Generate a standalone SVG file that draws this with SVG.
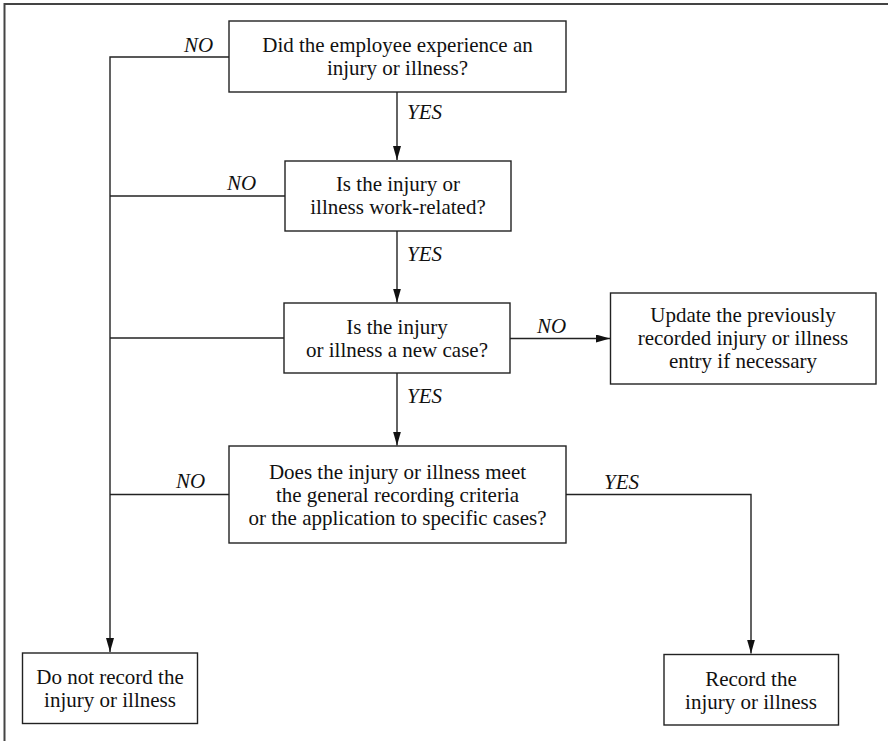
<svg xmlns="http://www.w3.org/2000/svg" width="888" height="741" viewBox="0 0 888 741" font-family="'Liberation Serif', 'Times New Roman', Tinos, 'DejaVu Serif', serif">
  <style>
    .box { fill: #ffffff; stroke: #222; stroke-width: 1.4; }
    .txt { font-size: 21px; fill: #111; text-anchor: middle; }
    .lbl { font-size: 21px; font-style: italic; fill: #111; }
    .wire { fill: none; stroke: #222; stroke-width: 1.4; }
    .frame { fill: none; stroke: #444; stroke-width: 2; }
  </style>
  <defs>
    <marker id="arrow" viewBox="0 0 14 8" refX="14" refY="4" markerWidth="14" markerHeight="8" markerUnits="userSpaceOnUse" orient="auto">
      <path d="M0,0 L14,4 L0,8 Z" fill="#111"/>
    </marker>
  </defs>

  <!-- page frame (top and left edges) -->
  <path class="frame" d="M4.5,741 V4 H888"/>

  <!-- connectors -->
  <g id="connectors">
    <path class="wire" d="M229,57 H110 V652" marker-end="url(#arrow)"/>
    <path class="wire" d="M285,196 H110"/>
    <path class="wire" d="M284,338 H110"/>
    <path class="wire" d="M229,494.5 H110"/>
    <path class="wire" d="M397,92 V160" marker-end="url(#arrow)"/>
    <path class="wire" d="M397,231 V302.5" marker-end="url(#arrow)"/>
    <path class="wire" d="M397,373 V445.5" marker-end="url(#arrow)"/>
    <path class="wire" d="M510,338.5 H610" marker-end="url(#arrow)"/>
    <path class="wire" d="M566,494.5 H751 V653.5" marker-end="url(#arrow)"/>

    <text class="lbl" x="184" y="52">NO</text>
    <text class="lbl" x="407" y="119">YES</text>
    <text class="lbl" x="227" y="190">NO</text>
    <text class="lbl" x="407" y="261">YES</text>
    <text class="lbl" x="537" y="332.5">NO</text>
    <text class="lbl" x="407" y="402.5">YES</text>
    <text class="lbl" x="176" y="488">NO</text>
    <text class="lbl" x="604" y="488.5">YES</text>
  </g>

  <g id="q-injury">
    <rect class="box" x="229" y="21" width="337" height="71"/>
    <text class="txt" x="397.5" y="52">Did the employee experience an</text>
    <text class="txt" x="397.5" y="75">injury or illness?</text>
  </g>

  <g id="q-work-related">
    <rect class="box" x="285" y="161" width="226" height="70"/>
    <text class="txt" x="398" y="191">Is the injury or</text>
    <text class="txt" x="398" y="214">illness work-related?</text>
  </g>

  <g id="q-new-case">
    <rect class="box" x="284" y="303" width="226" height="70"/>
    <text class="txt" x="397" y="334">Is the injury</text>
    <text class="txt" x="397" y="357">or illness a new case?</text>
  </g>

  <g id="update-entry">
    <rect class="box" x="610.5" y="293" width="265.5" height="91"/>
    <text class="txt" x="743" y="322">Update the previously</text>
    <text class="txt" x="743" y="345">recorded injury or illness</text>
    <text class="txt" x="743" y="368">entry if necessary</text>
  </g>

  <g id="q-criteria">
    <rect class="box" x="229" y="446" width="337" height="97"/>
    <text class="txt" x="397.5" y="478.5">Does the injury or illness meet</text>
    <text class="txt" x="397.5" y="501.5">the general recording criteria</text>
    <text class="txt" x="397.5" y="524.5">or the application to specific cases?</text>
  </g>

  <g id="do-not-record">
    <rect class="box" x="22.5" y="653" width="175" height="70.5"/>
    <text class="txt" x="110" y="684">Do not record the</text>
    <text class="txt" x="110" y="707">injury or illness</text>
  </g>

  <g id="record">
    <rect class="box" x="664" y="654.5" width="174.5" height="70.5"/>
    <text class="txt" x="751" y="685.5">Record the</text>
    <text class="txt" x="751" y="708.5">injury or illness</text>
  </g>
</svg>
